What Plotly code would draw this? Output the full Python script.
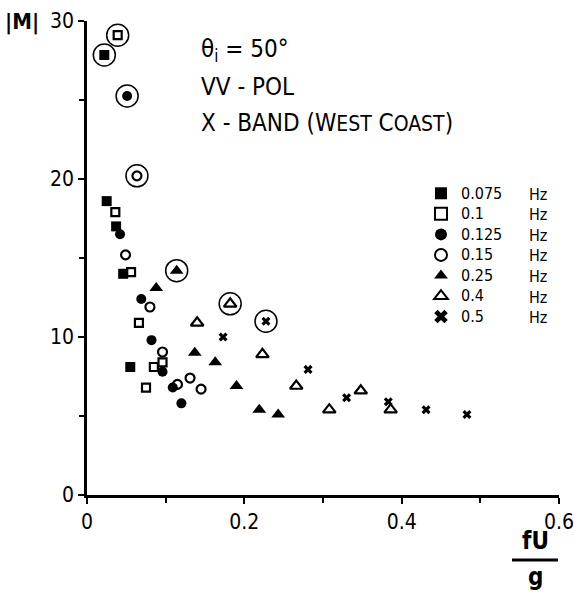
import plotly.graph_objects as go

# ---- data ----
labels = ["0.075", "0.1", "0.125", "0.15", "0.25", "0.4", "0.5"]

x_0075 = [0.025, 0.037, 0.046, 0.055]
y_0075 = [18.6, 17.0, 14.0, 8.1]
x_01 = [0.036, 0.056, 0.066, 0.096, 0.085, 0.075]
y_01 = [17.9, 14.1, 10.9, 8.4, 8.1, 6.8]
x_0125 = [0.042, 0.069, 0.082, 0.096, 0.109, 0.120]
y_0125 = [16.5, 12.4, 9.8, 7.8, 6.8, 5.8]
x_015 = [0.049, 0.080, 0.096, 0.115, 0.131, 0.145]
y_015 = [15.2, 11.9, 9.05, 7.0, 7.4, 6.7]
x_025 = [0.088, 0.137, 0.163, 0.190, 0.219, 0.243]
y_025 = [13.1, 9.0, 8.4, 6.9, 5.4, 5.1]
x_04 = [0.140, 0.223, 0.266, 0.308, 0.348, 0.386]
y_04 = [10.9, 8.9, 6.9, 5.4, 6.6, 5.4]
x_05 = [0.173, 0.281, 0.330, 0.383, 0.431, 0.483]
y_05 = [10.0, 7.95, 6.15, 5.9, 5.4, 5.1]

# circled (highlighted) point of each series, same order as labels
circled_x = [0.022, 0.039, 0.051, 0.0635, 0.114, 0.182, 0.2275]
circled_y = [27.85, 29.1, 25.25, 20.2, 14.2, 12.1, 11.0]

x_ticks = [0, 0.2, 0.4, 0.6]
x_ticktext = ["0", "0.2", "0.4", "0.6"]
y_ticks = [0, 10, 20, 30]

series_x = [x_0075, x_01, x_0125, x_015, x_025, x_04, x_05]
series_y = [y_0075, y_01, y_0125, y_015, y_025, y_04, y_05]

FONT = "DejaVu Sans Condensed, DejaVu Sans, sans-serif"

styles = [
    dict(symbol="square", size=10, color="black", line=dict(width=0)),
    dict(symbol="square-open", size=8, color="black", line=dict(width=2.2, color="black")),
    dict(symbol="circle", size=10, color="black", line=dict(width=0)),
    dict(symbol="circle-open", size=9, color="black", line=dict(width=2.2, color="black")),
    dict(symbol="triangle-up", size=12, color="black", line=dict(width=0)),
    dict(symbol="triangle-up-open", size=11, color="black", line=dict(width=2.2, color="black")),
    dict(symbol="x", size=8, color="black", line=dict(width=0)),
]

fig = go.Figure()
for i, lab in enumerate(labels):
    xs = series_x[i] + [circled_x[i]]
    ys = series_y[i] + [circled_y[i]]
    fig.add_trace(go.Scatter(
        x=xs, y=ys, mode="markers",
        name="<span style='font-size:16px'>" + lab + "</span>",
        marker=styles[i], cliponaxis=False, showlegend=True,
    ))

fig.add_trace(go.Scatter(
    x=circled_x, y=circled_y, mode="markers", showlegend=False,
    marker=dict(symbol="circle-open", size=22, color="black", line=dict(width=1.5, color="black")),
    cliponaxis=False,
))

L, R, T, B = 87, 15, 21, 98
W, H = 574, 593
pw, ph = W - L - R, H - T - B

def px(xp):
    return (xp - L) / pw

def py(yp):
    return (H - B - yp) / ph

annotations = [
    dict(text="θ<sub>i</sub> = 50°", x=px(199), y=py(50), xanchor="left", yanchor="middle"),
    dict(text="VV - POL", x=px(199), y=py(87), xanchor="left", yanchor="middle"),
    dict(text="X&nbsp;- BAND (W<span style='font-size:21px'>EST</span> C<span style='font-size:21px'>OAST</span>)",
         x=px(199), y=py(123), xanchor="left", yanchor="middle"),
]
for a in annotations:
    a.update(xref="paper", yref="paper", showarrow=False,
             font=dict(family=FONT, size=24, color="black"))

# Hz column of the legend
for i in range(len(labels)):
    annotations.append(dict(text="Hz", x=px(527), y=py(194 + 20.6 * i), xref="paper", yref="paper",
                            xanchor="left", yanchor="middle", showarrow=False,
                            font=dict(family=FONT, size=16, color="black")))

annotations += [
    dict(text="<b>|M|</b>", x=px(41), y=py(22), xref="paper", yref="paper", xanchor="right",
         yanchor="middle", showarrow=False, font=dict(family=FONT, size=22, color="black")),
    dict(text="<b>fU</b>", x=px(535), y=py(541), xref="paper", yref="paper", xanchor="center",
         yanchor="middle", showarrow=False, font=dict(family=FONT, size=24, color="black")),
    dict(text="<b>g</b>", x=px(535), y=py(577), xref="paper", yref="paper", xanchor="center",
         yanchor="middle", showarrow=False, font=dict(family=FONT, size=24, color="black")),
]

fig.update_layout(
    width=W, height=H,
    margin=dict(l=L, r=R, t=T, b=B, autoexpand=False),
    paper_bgcolor="white", plot_bgcolor="white",
    font=dict(family=FONT, color="black"),
    annotations=annotations,
    shapes=[dict(type="line", xref="paper", yref="paper", x0=px(512), x1=px(558),
                 y0=py(560), y1=py(560), line=dict(color="black", width=3))],
    legend=dict(x=px(421), y=py(178), xanchor="left", yanchor="top",
                font=dict(family=FONT, size=13.5, color="black"),
                bgcolor="rgba(0,0,0,0)", tracegroupgap=0, itemsizing="constant"),
    showlegend=True,
)

fig.update_xaxes(
    range=[0, 0.6], tickvals=x_ticks, ticktext=x_ticktext, automargin=False,
    showline=True, linecolor="black", linewidth=2.5, showgrid=False, zeroline=False,
    ticks="outside", ticklen=6, tickwidth=2, tickcolor="black", ticklabeloverflow="allow",
    tickfont=dict(family=FONT, size=21, color="black"),
    minor=dict(tickvals=[0.1, 0.3, 0.5], ticks="outside", ticklen=5, tickwidth=2, tickcolor="black"),
)
fig.update_yaxes(
    range=[0, 30], tickvals=y_ticks, automargin=False,
    showline=True, linecolor="black", linewidth=2.5, showgrid=False, zeroline=False,
    ticks="outside", ticklen=6, tickwidth=2, tickcolor="black",
    tickfont=dict(family=FONT, size=21, color="black"),
    minor=dict(tickvals=[5, 15, 25], ticks="outside", ticklen=5, tickwidth=2, tickcolor="black"),
)

fig.write_html("out.html")
